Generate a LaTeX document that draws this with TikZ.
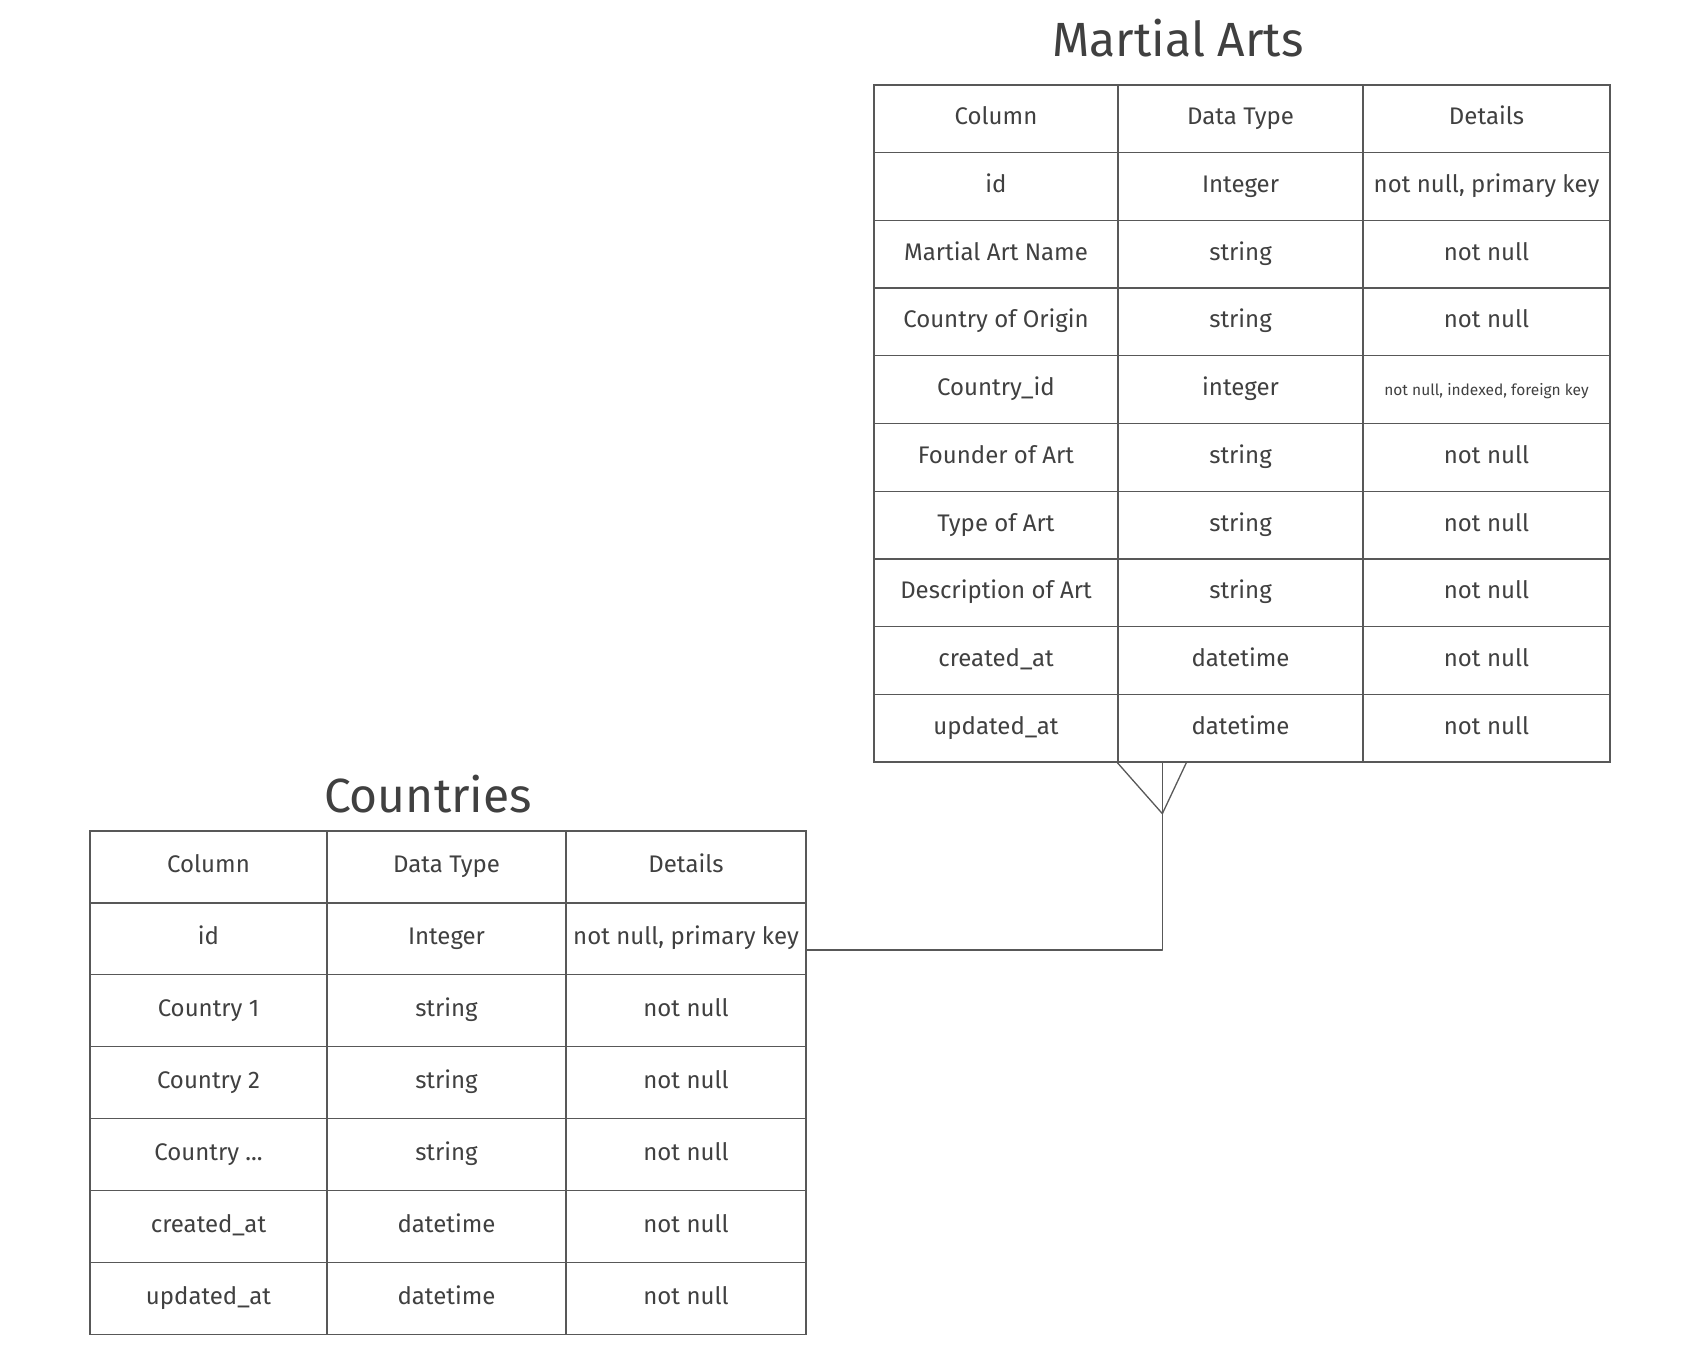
\documentclass[tikz,border=0pt]{standalone}
\usepackage{fontspec}
\setmainfont{Fira Sans}
\definecolor{lineg}{RGB}{88,88,88}
\definecolor{textg}{RGB}{64,64,64}
\newcommand\smalltxtfont{\fontsize{15.5}{18}\selectfont}
\tikzset{
  tcell/.style={draw=lineg, line width=1.3pt, inner sep=0pt, text=textg, font=\fontsize{24}{27}\selectfont, text height=17pt, text depth=5pt, anchor=center},
  macell/.style={tcell, minimum height=67.7pt},
  cocell/.style={tcell, minimum height=71.9pt},
  ttl/.style={text=textg, font=\fontsize{48}{52}\selectfont},
  conn/.style={draw=lineg, line width=1.3pt, line join=round}
}
\newcommand\marow[4]{%
  \node[macell, minimum width=244pt] (ma-#1-1) at (996,{85+67.7*(#1+0.5)}) {#2};
  \node[macell, minimum width=245pt] (ma-#1-2) at (1240.5,{85+67.7*(#1+0.5)}) {#3};
  \node[macell, minimum width=247pt] (ma-#1-3) at (1486.5,{85+67.7*(#1+0.5)}) {#4};}
\newcommand\corow[4]{%
  \node[cocell, minimum width=237pt] (co-#1-1) at (208.5,{831+71.9*(#1+0.5)}) {#2};
  \node[cocell, minimum width=239pt] (co-#1-2) at (446.5,{831+71.9*(#1+0.5)}) {#3};
  \node[cocell, minimum width=240pt] (co-#1-3) at (686,{831+71.9*(#1+0.5)}) {#4};}
\begin{document}
\begin{tikzpicture}[x=1pt,y=-1pt]
\useasboundingbox[fill=white] (0,0) rectangle (1694,1360);
% Martial Arts
\node[ttl] (ma-title) at (1178,38) {Martial Arts};
\marow{0}{Column}{Data Type}{Details}
\marow{1}{id}{Integer}{not null, primary key}
\marow{2}{Martial Art Name}{string}{not null}
\marow{3}{Country of Origin}{string}{not null}
\marow{4}{Country\_id}{integer}{\smalltxtfont not null, indexed, foreign key}
\marow{5}{Founder of Art}{string}{not null}
\marow{6}{Type of Art}{string}{not null}
\marow{7}{Description of Art}{string}{not null}
\marow{8}{created\_at}{datetime}{not null}
\marow{9}{updated\_at}{datetime}{not null}
% Countries
\node[ttl] (co-title) at (428,794) {Countries};
\corow{0}{Column}{Data Type}{Details}
\corow{1}{id}{Integer}{not null, primary key}
\corow{2}{Country 1}{string}{not null}
\corow{3}{Country 2}{string}{not null}
\corow{4}{Country ...}{string}{not null}
\corow{5}{created\_at}{datetime}{not null}
\corow{6}{updated\_at}{datetime}{not null}
% relationship (one-to-many, crow's foot at Martial Arts)
\coordinate (footL) at (ma-9-2.south west);
\coordinate (footM) at ([xshift=45pt]ma-9-2.south west);
\coordinate (footR) at ([xshift=69pt]ma-9-2.south west);
\coordinate (tip) at ([yshift=-51pt]footM);
\draw[conn] ([yshift=-11pt]co-1-3.east) -| (tip) -- (footM);
\draw[conn] (footL) -- (tip) -- (footR);
\end{tikzpicture}
\end{document}
